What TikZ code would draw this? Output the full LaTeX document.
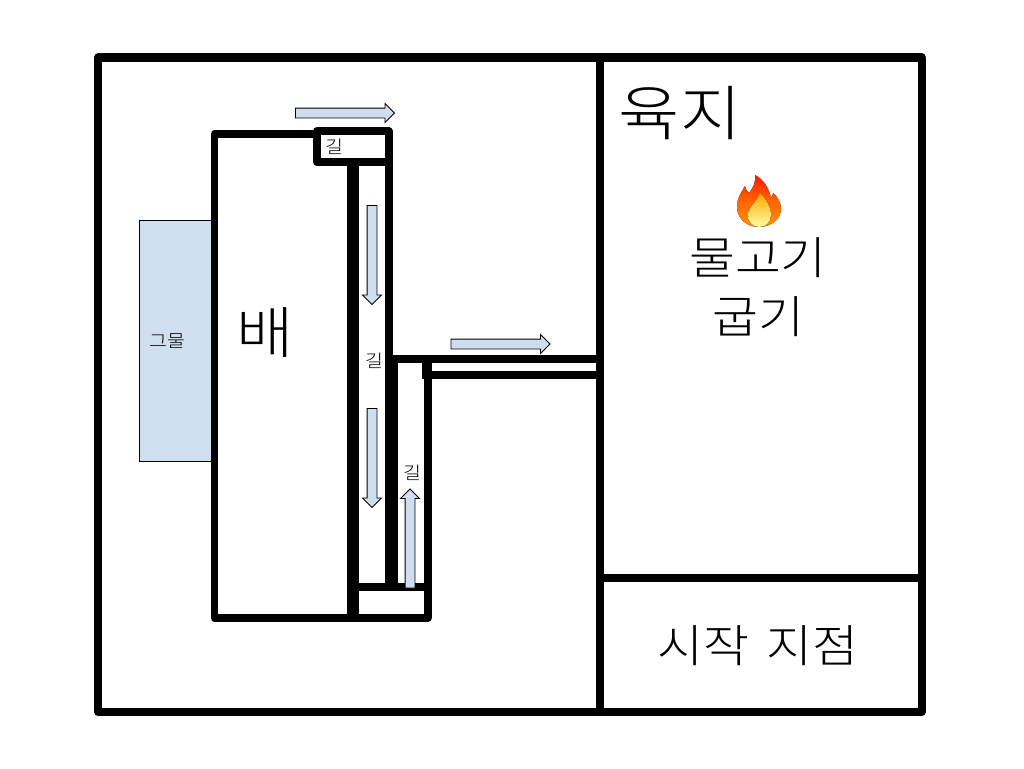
\documentclass[tikz,border=0pt]{standalone}
\usepackage{fontspec}
\usetikzlibrary{shapes.arrows}
\newfontfamily\krfont[FakeStretch=1.11]{Noto Sans CJK KR Light}
\definecolor{cArrow}{RGB}{205, 222, 240}
\definecolor{cNet}  {RGB}{207, 223, 240}
\definecolor{cInk}  {RGB}{0,   0,   0}
\tikzset{
  wall/.style   = {draw=black, line width=8pt, line join=round, line cap=round},
  fatw/.style   = {wall, line width=12.5pt, line cap=butt},
  flow/.style   = {single arrow, draw=black, fill=cArrow, line width=0.9pt, inner xsep=0pt,
                   inner ysep=4.5pt, single arrow head extend=4.5pt,
                   single arrow head indent=0pt, minimum height=99pt, anchor=center},
  bigT/.style   = {font=\krfont\fontsize{45}{56}\selectfont, text=cInk, inner sep=0pt, align=center},
  smallT/.style = {font=\krfont\fontsize{17.5}{20}\selectfont, text=cInk, inner sep=0pt},
}
\begin{document}
\begin{tikzpicture}[x=1pt,y=-1pt]
\useasboundingbox (0,0) rectangle (1024,768);

%% ─── Net ─────────────────────────────────────────────────────────
\draw[fill=cNet, line width=0.9pt] (139,220) rectangle (212,461);
\node[smallT] (net) at (167,341) {그물};

%% ─── Ship and paths ──────────────────────────────────────────────
\draw[wall, line width=7.5pt] (317,134) -- (214.5,134) -- (214.5,618) -- (353,618);
\draw[wall] (317,131) rectangle (388.5,162);
\draw[fatw] (353,162) -- (353,620);
\draw[wall, line cap=butt] (388.5,162) -- (388.5,359);
\draw[fatw] (391.5,355) -- (391.5,590);
\draw[wall, line cap=butt] (388,359) -- (599,359);
\draw[wall, line cap=butt] (427,375) -- (599,375);
\draw[wall, line width=10pt, line cap=butt] (427,355) -- (427,379);
\draw[wall] (427.5,375) -- (427.5,618) -- (353,618);
\draw[wall, line cap=butt] (353,587) -- (428,587);

%% ─── Outer frame ─────────────────────────────────────────────────
\draw[wall] (98,57.5) rectangle (921.5,712);
\draw[wall] (600,57.5) -- (600,712);
\draw[wall] (600,577.5) -- (921.5,577.5);

%% ─── Flow marks ──────────────────────────────────────────────────
\node[flow] (flowA) at (342.5,113) {};
\node[flow, rotate=-90] (flowB) at (372,252.5) {};
\node[flow, rotate=-90] (flowC) at (372,455.5) {};
\node[flow, rotate=90] (flowD) at (410,541) {};
\node[flow] (flowE) at (498,344) {};

%% ─── Labels ──────────────────────────────────────────────────────
\node[bigT, font=\krfont\fontsize{56}{60}\selectfont] (ship) at (265,333) {배};
\node[bigT, font=\krfont\fontsize{60}{60}\selectfont] (land) at (680,113.5) {육지};
\node[bigT] (fish) at (758,258) {물고기};
\node[bigT] (grill) at (758,317) {굽기};
\node[bigT] (start) at (758,646) {시작\hspace{6pt} 지점};
\node[smallT] (pathA) at (334,147) {길};
\node[smallT] (pathB) at (374,361) {길};
\node[smallT] (pathC) at (412,473) {길};

%% ─── Flame ───────────────────────────────────────────────────────
\fill[top color=red!80!orange, bottom color=orange!85!yellow, middle color=orange!80!red]
  (759,227) .. controls (746,227) and (737,218) .. (737,207)
  .. controls (737,198) and (741,193) .. (745,186)
  .. controls (746,190) and (747,192) .. (749,193)
  .. controls (753,188) and (756,182) .. (755,175)
  .. controls (763,179) and (769,188) .. (771,198)
  .. controls (772,196) and (773,195) .. (773,193)
  .. controls (778,197) and (781,203) .. (781,209)
  .. controls (781,219) and (771,227) .. (759,227) -- cycle;
\fill[top color=orange!70!yellow, bottom color=yellow!35!white]
  (759,227) .. controls (752,227) and (748,221) .. (748,215)
  .. controls (748,207) and (756,203) .. (760,193)
  .. controls (766,199) and (771,207) .. (771,215)
  .. controls (771,222) and (766,227) .. (759,227) -- cycle;

\end{tikzpicture}
\end{document}
